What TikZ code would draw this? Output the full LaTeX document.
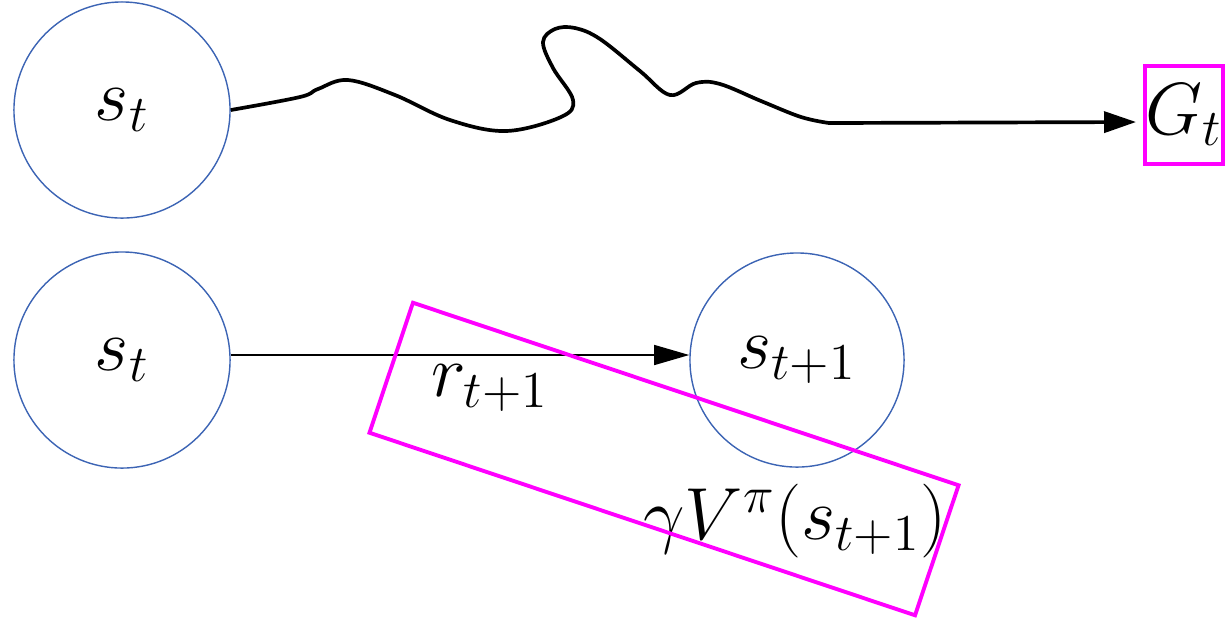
\RequirePackage{fix-cm}
\documentclass[tikz,border=0pt]{standalone}
\usetikzlibrary{arrows.meta,positioning}
\definecolor{stateblue}{RGB}{60,100,180}
\definecolor{boxmagenta}{RGB}{255,0,255}

\begin{document}
\begin{tikzpicture}[
    x=0.01cm, y=-0.01cm,
    big/.style={font=\fontsize{21}{25}\selectfont},
    state/.style={circle, draw=stateblue, line width=0.4pt, minimum size=2.16cm, inner sep=0pt, big},
    target/.style={rectangle, draw=boxmagenta, line width=1.1pt, inner sep=0pt},
    wiggle/.style={-{Triangle[length=0.32cm,width=0.21cm]}, line width=1.05pt},
    step arrow/.style={-{Triangle[length=0.35cm,width=0.2cm]}, line width=0.4pt}
]
    \useasboundingbox (0,0) rectangle (1230,617);

    % Monte Carlo return
    \node[state] (s1) at (122,110) {$s_t$};
    \node[target, big, minimum width=0.78cm, minimum height=0.98cm] (G) at (1184,115) {$G_t$};
    \draw[wiggle] plot[smooth, tension=0.6] coordinates {(s1.east) (300,97) (318,89) (348,80) (395,95)
        (450,120) (506,131) (561,117) (573,100) (553,68) (543,42) (555,29) (575,28) (600,39)
        (640,71) (670,95) (696,83) (720,84) (761,101) (801,117) (829,123)}
        -- ([xshift=-0.07cm, yshift=-0.07cm]G.west);

    % TD target
    \node[state] (s2) at (122,360) {$s_t$};
    \node[state, minimum size=2.14cm] (s3) at (797,360) {$s_{t+1}$};
    \draw[step arrow] ([yshift=0.05cm]s2.east) -- ([yshift=0.05cm]s3.west);
    \node[big] (r) at (490,388) {$r_{t+1}$};
    \node[big] (v) at (795,521) {$\gamma V^\pi(s_{t+1})$};
    \node[target, rotate=-18.5, minimum width=5.75cm, minimum height=1.37cm] (td) at (664,459) {};
\end{tikzpicture}
\end{document}
